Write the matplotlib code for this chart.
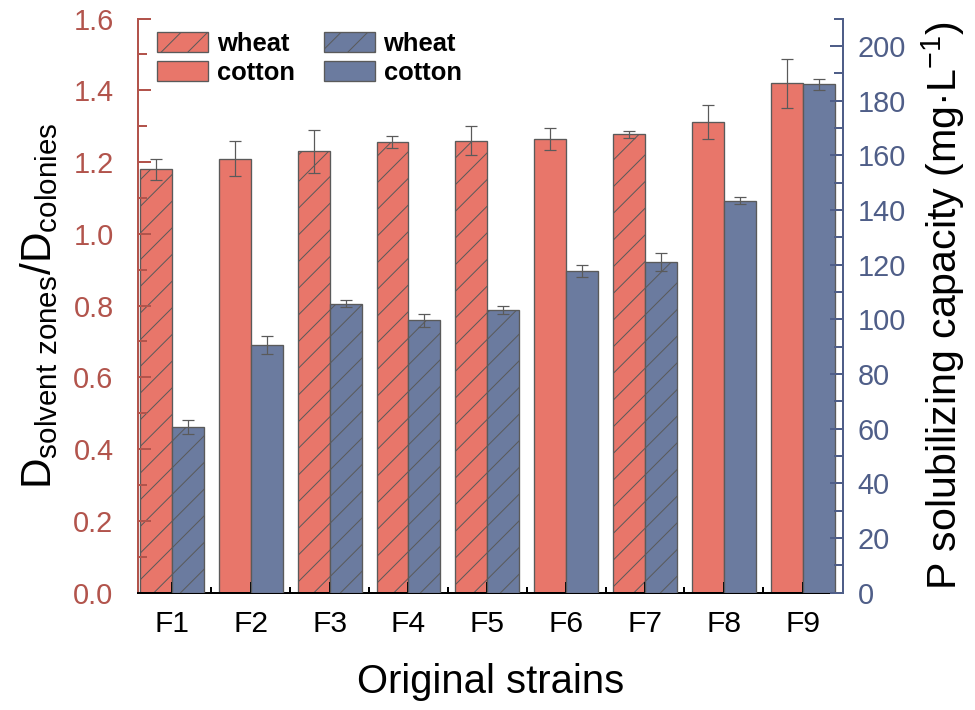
import numpy as np
import matplotlib
matplotlib.use("Agg")
import matplotlib.pyplot as plt
from matplotlib.patches import Patch

plt.rcParams["font.family"] = ["Liberation Sans", "DejaVu Sans"]
plt.rcParams["mathtext.default"] = "regular"
plt.rcParams["hatch.linewidth"] = 0.45

strains = ["F1", "F2", "F3", "F4", "F5", "F6", "F7", "F8", "F9"]
crop = ["wheat", "cotton", "wheat", "wheat", "wheat", "cotton", "wheat", "cotton", "cotton"]
ratio = [1.18, 1.21, 1.23, 1.256, 1.26, 1.265, 1.277, 1.312, 1.42]
ratio_err = [0.03, 0.05, 0.06, 0.018, 0.04, 0.03, 0.01, 0.047, 0.068]
p_sol = [60.6, 90.5, 105.7, 99.6, 103.4, 117.6, 120.9, 143.4, 186.0]
p_sol_err = [2.7, 3.2, 1.4, 2.3, 1.6, 2.1, 3.3, 1.2, 2.0]

RED = "#E8766A"
BLUE = "#6B7B9F"
RED_AX = "#B2544C"
BLUE_AX = "#4F5E88"
EDGE = "#5a5a5a"

fig = plt.figure(figsize=(975 / 160, 710 / 160), dpi=160)
ax = fig.add_axes([0.1415, 0.1654, 0.7231, 0.8084])
ax2 = ax.twinx()

x = np.arange(1, len(strains) + 1)
w = 0.405

b1 = ax.bar(x, ratio, width=-w, align="edge", color=RED, edgecolor=EDGE, linewidth=0.6)
b2 = ax2.bar(x, p_sol, width=w, align="edge", color=BLUE, edgecolor=EDGE, linewidth=0.6)
for bars in (b1, b2):
    for patch, c in zip(bars, crop):
        if c == "wheat":
            patch.set_hatch("//")

ax.errorbar(x - w / 2, ratio, yerr=ratio_err, fmt="none", ecolor=EDGE,
            elinewidth=0.55, capsize=2.6, capthick=0.55)
ax2.errorbar(x + w / 2, p_sol, yerr=p_sol_err, fmt="none", ecolor=EDGE,
             elinewidth=0.55, capsize=2.6, capthick=0.55)

ax.set_xlim(0.57, 9.51)
ax.set_ylim(0, 1.6)
ax2.set_ylim(0, 210)

ax.set_xticks(x)
ax.set_xticklabels(strains)
ax.set_xticks(x[:-1] + 0.5, minor=True)
ax.set_yticks(np.arange(0, 1.61, 0.2))
ax.set_yticks(np.arange(0.1, 1.6, 0.2), minor=True)
ax.yaxis.set_major_formatter(matplotlib.ticker.FormatStrFormatter("%.1f"))
ax2.set_yticks(np.arange(0, 201, 20))
ax2.set_yticks(np.arange(10, 211, 20), minor=True)

for a in (ax, ax2):
    a.spines["top"].set_visible(False)
ax.spines["right"].set_visible(False)
ax2.spines["left"].set_visible(False)
ax2.spines["bottom"].set_visible(False)
ax.spines["left"].set_color(RED_AX)
ax2.spines["right"].set_color(BLUE_AX)
ax.spines["bottom"].set_color("black")
for s in ("left", "bottom"):
    ax.spines[s].set_linewidth(0.9)
ax2.spines["right"].set_linewidth(0.9)

ax.tick_params(axis="x", which="major", direction="in", length=5, width=0.9,
               labelsize=13.5, pad=8, colors="black")
ax.tick_params(axis="x", which="minor", direction="in", length=2.8, width=0.9)
ax.tick_params(axis="y", which="major", direction="in", length=6, width=0.9,
               labelsize=13, pad=11, colors=RED_AX)
ax.tick_params(axis="y", which="minor", direction="in", length=4, width=0.9,
               colors=RED_AX)
ax2.tick_params(axis="y", which="major", direction="in", length=6, width=0.9,
                labelsize=13, pad=6.5, colors=BLUE_AX)
ax2.tick_params(axis="y", which="minor", direction="in", length=4, width=0.9,
                colors=BLUE_AX)

ax.set_xlabel("Original strains", fontsize=18, labelpad=11)
ax.set_ylabel("D$_{solvent\\ zones}$/D$_{colonies}$", fontsize=19, labelpad=6)
ax2.set_ylabel("P solubilizing capacity (mg·L$^{-1}$)", fontsize=18.5, labelpad=6)

handles = [
    Patch(facecolor=RED, edgecolor=EDGE, linewidth=0.6, hatch="//"),
    Patch(facecolor=RED, edgecolor=EDGE, linewidth=0.6),
    Patch(facecolor=BLUE, edgecolor=EDGE, linewidth=0.6, hatch="//"),
    Patch(facecolor=BLUE, edgecolor=EDGE, linewidth=0.6),
]
labels = ["wheat", "cotton", "wheat", "cotton"]
ax2.legend(handles, labels, ncol=2, loc="upper left", bbox_to_anchor=(0.013, 0.995),
           frameon=False, prop={"weight": "bold", "size": 11.5},
           handlelength=2.0, handleheight=0.85, handletextpad=0.35,
           columnspacing=1.1, labelspacing=0.2, borderaxespad=0)

fig.savefig("out.png", dpi=160)
